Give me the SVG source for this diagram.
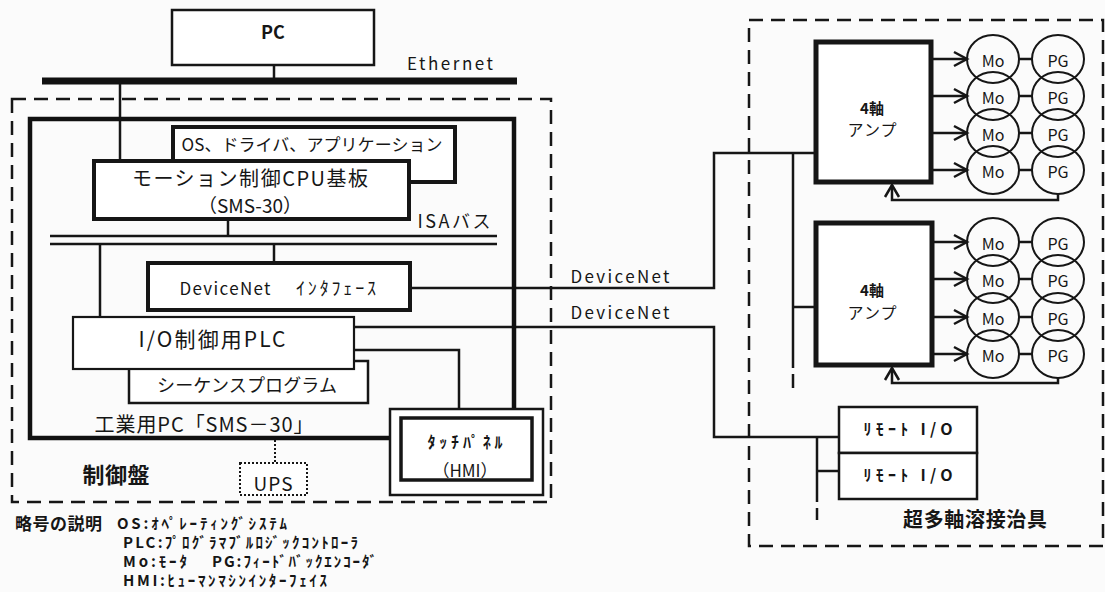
<svg xmlns="http://www.w3.org/2000/svg" width="1105" height="592" viewBox="0 0 1105 592">
<style>
.t{font-family:"Noto Sans CJK JP","Liberation Sans",sans-serif;fill:#161616;dominant-baseline:central;text-anchor:middle}
.s{text-anchor:start}
.b{font-weight:bold}
.box{fill:#fff;stroke:#161616}
.ln{fill:none;stroke:#161616;stroke-width:2.5}
.ah{fill:none;stroke:#161616;stroke-width:2.5;stroke-linejoin:miter}
.dash{fill:none;stroke:#161616;stroke-width:2.5;stroke-dasharray:14 8}
.c{fill:none;stroke:#161616;stroke-width:2}
</style>
<rect width="1105" height="592" fill="#fbfbfb"/>

<g id="panel">
<rect x="12" y="99" width="539" height="403" class="dash"/>
<text class="t b" x="116" y="473" font-size="22" textLength="67">制御盤</text>
</g>
<g id="jig">
<rect x="749" y="20" width="354" height="526" class="dash"/>
<text class="t b" x="975" y="518" font-size="20" textLength="144">超多軸溶接治具</text>
</g>

<g id="connectors">
<line x1="274" y1="65" x2="274" y2="78" class="ln"/>
<line x1="42" y1="81" x2="517" y2="81" stroke="#111" stroke-width="7"/>
<line x1="120" y1="84" x2="120" y2="161" class="ln"/>
<line x1="228" y1="219" x2="228" y2="236" class="ln"/>
<line x1="50" y1="236" x2="497" y2="236" class="ln"/>
<line x1="50" y1="244" x2="497" y2="244" class="ln"/>
<line x1="274" y1="244" x2="274" y2="263" class="ln"/>
<line x1="100" y1="244" x2="100" y2="317" class="ln"/>
<path d="M410,288 H714 V153 H816" class="ln"/>
<path d="M793,153 V368" class="ln"/>
<path d="M793,374 V388" class="ln"/>
<path d="M793,307 H816" class="ln"/>
<path d="M354,327 H714 V437 H839" class="ln"/>
<path d="M817,437 V502" class="ln"/>
<path d="M817,508 V520" class="ln"/>
<path d="M817,471 H839" class="ln"/>
<path d="M354,350 H459 V409" class="ln"/>
<path d="M275,440 V463" fill="none" stroke="#161616" stroke-width="2" stroke-dasharray="2 2"/>
<path d="M931,59 H967 M931,96 H967 M931,133 H967 M931,170 H967 M931,242 H967 M931,279 H967 M931,317 H967 M931,354 H967" class="ln"/>
<path d="M954,52 L967,59 L954,66 M954,89 L967,96 L954,103 M954,126 L967,133 L954,140 M954,163 L967,170 L954,177 M954,235 L967,242 L954,249 M954,272 L967,279 L954,286 M954,310 L967,317 L954,324 M954,347 L967,354 L954,361" class="ah"/>
<path d="M1019,59 H1032 M1019,96 H1032 M1019,133 H1032 M1019,170 H1032 M1019,242 H1032 M1019,279 H1032 M1019,317 H1032 M1019,354 H1032" class="ln"/>
<path d="M1058,194 V200 H892 V185" class="ln"/>
<path d="M885,197 L892,185 L899,197" class="ah"/>
<path d="M1058,378 V383 H892 V368" class="ln"/>
<path d="M885,380 L892,368 L899,380" class="ah"/>
<text class="t" x="450" y="62" font-size="17" textLength="86">Ethernet</text>
<text class="t" x="454" y="220" font-size="18" textLength="73">ISAバス</text>
<text class="t" x="620" y="275" font-size="17" textLength="99">DeviceNet</text>
<text class="t" x="620" y="311" font-size="17" textLength="99">DeviceNet</text>
</g>

<g id="pc">
<rect x="172" y="10" width="202" height="55" class="box" stroke-width="2.5"/>
<text class="t b" x="273" y="31" font-size="18">PC</text>
</g>

<g id="industrial-pc">
<rect x="30" y="119" width="484" height="319" fill="none" stroke="#111" stroke-width="4.5"/>
<text class="t" x="204" y="423" font-size="20" textLength="219">工業用PC「SMS－30」</text>
</g>

<g id="os">
<rect x="173" y="127" width="282" height="55" class="box" stroke-width="4"/>
<text class="t" x="312" y="143" font-size="17" textLength="261">OS、ドライバ、アプリケーション</text>
</g>

<g id="cpu">
<rect x="94" y="161" width="315" height="58" class="box" stroke-width="4"/>
<text class="t" x="250" y="177" font-size="20" textLength="236">モーション制御CPU基板</text>
<text class="t" x="250" y="204" font-size="19">（SMS-30）</text>
</g>

<g id="devicenet-if">
<rect x="148" y="263" width="262" height="47" class="box" stroke-width="4"/>
<text class="t" x="225" y="287" font-size="17" textLength="91">DeviceNet</text>
<text class="t" x="336" y="287" font-size="18" textLength="80">ｲﾝﾀﾌｪｰｽ</text>
</g>

<g id="sequence">
<rect x="129" y="361" width="239" height="42" class="box" stroke-width="2.5"/>
<text class="t" x="247" y="384" font-size="18" textLength="180">シーケンスプログラム</text>
</g>

<g id="plc">
<rect x="73" y="317" width="281" height="52" class="box" stroke-width="2.2"/>
<text class="t" x="212" y="338" font-size="21" textLength="147">I/O制御用PLC</text>
</g>

<g id="hmi">
<rect x="390" y="409" width="153" height="86" class="box" stroke-width="2.5"/>
<rect x="401" y="418" width="131" height="62" class="box" stroke-width="3.5"/>
<text class="t b" x="465" y="441" font-size="16" textLength="75">ﾀｯﾁﾊﾟﾈﾙ</text>
<text class="t" x="465" y="469" font-size="17">（HMI）</text>
</g>

<g id="ups">
<rect x="240" y="463" width="67" height="32" fill="#fff" stroke="#161616" stroke-width="2" stroke-dasharray="2 2"/>
<text class="t" x="273" y="482" font-size="19" textLength="39">UPS</text>
</g>

<g id="amp1">
<rect x="816" y="42" width="115" height="140" class="box" stroke-width="5"/>
<text class="t b" x="872" y="107" font-size="15">4軸</text>
<text class="t" x="872" y="129" font-size="16" textLength="49">アンプ</text>
</g>
<g id="amp2">
<rect x="816" y="223" width="116" height="142" class="box" stroke-width="5"/>
<text class="t b" x="872" y="289" font-size="15">4軸</text>
<text class="t" x="872" y="312" font-size="16" textLength="49">アンプ</text>
</g>

<g id="motors1">
<ellipse cx="993" cy="59" rx="26" ry="24" class="c"/>
<ellipse cx="993" cy="96" rx="26" ry="24" class="c"/>
<ellipse cx="993" cy="133" rx="26" ry="24" class="c"/>
<ellipse cx="993" cy="170" rx="26" ry="24" class="c"/>
<ellipse cx="1058" cy="59" rx="26" ry="24" class="c"/>
<ellipse cx="1058" cy="96" rx="26" ry="24" class="c"/>
<ellipse cx="1058" cy="133" rx="26" ry="24" class="c"/>
<ellipse cx="1058" cy="170" rx="26" ry="24" class="c"/>
<text class="t" x="993" y="60" font-size="16">Mo</text>
<text class="t" x="993" y="97" font-size="16">Mo</text>
<text class="t" x="993" y="134" font-size="16">Mo</text>
<text class="t" x="993" y="171" font-size="16">Mo</text>
<text class="t" x="1058" y="60" font-size="16">PG</text>
<text class="t" x="1058" y="97" font-size="16">PG</text>
<text class="t" x="1058" y="134" font-size="16">PG</text>
<text class="t" x="1058" y="171" font-size="16">PG</text>
</g>
<g id="motors2">
<ellipse cx="993" cy="242" rx="26" ry="24" class="c"/>
<ellipse cx="993" cy="279" rx="26" ry="24" class="c"/>
<ellipse cx="993" cy="317" rx="26" ry="24" class="c"/>
<ellipse cx="993" cy="354" rx="26" ry="24" class="c"/>
<ellipse cx="1058" cy="242" rx="26" ry="24" class="c"/>
<ellipse cx="1058" cy="279" rx="26" ry="24" class="c"/>
<ellipse cx="1058" cy="317" rx="26" ry="24" class="c"/>
<ellipse cx="1058" cy="354" rx="26" ry="24" class="c"/>
<text class="t" x="993" y="243" font-size="16">Mo</text>
<text class="t" x="993" y="280" font-size="16">Mo</text>
<text class="t" x="993" y="318" font-size="16">Mo</text>
<text class="t" x="993" y="355" font-size="16">Mo</text>
<text class="t" x="1058" y="243" font-size="16">PG</text>
<text class="t" x="1058" y="280" font-size="16">PG</text>
<text class="t" x="1058" y="318" font-size="16">PG</text>
<text class="t" x="1058" y="355" font-size="16">PG</text>
</g>

<g id="remote-io">
<rect x="839" y="407" width="138" height="46" class="box" stroke-width="2.5"/>
<rect x="839" y="453" width="138" height="46" class="box" stroke-width="2.5"/>
<text class="t b" x="908" y="428" font-size="16" textLength="89">ﾘﾓｰﾄ I/O</text>
<text class="t b" x="908" y="474" font-size="16" textLength="89">ﾘﾓｰﾄ I/O</text>
</g>

<g id="legend">
<text class="t s b" x="15" y="522" font-size="17" textLength="87">略号の説明</text>
<text class="t s b" x="117" y="522" font-size="15" textLength="170">OS:ｵﾍﾟﾚｰﾃｨﾝｸﾞｼｽﾃﾑ</text>
<text class="t s b" x="123" y="541" font-size="15" textLength="235">PLC:ﾌﾟﾛｸﾞﾗﾏﾌﾞﾙﾛｼﾞｯｸｺﾝﾄﾛｰﾗ</text>
<text class="t s b" x="123" y="560" font-size="15" textLength="64">Mo:ﾓｰﾀ</text>
<text class="t s b" x="212" y="560" font-size="15" textLength="165">PG:ﾌｨｰﾄﾞﾊﾞｯｸｴﾝｺｰﾀﾞ</text>
<text class="t s b" x="123" y="579" font-size="15" textLength="204">HMI:ﾋｭｰﾏﾝﾏｼﾝｲﾝﾀｰﾌｪｲｽ</text>
</g>
</svg>
